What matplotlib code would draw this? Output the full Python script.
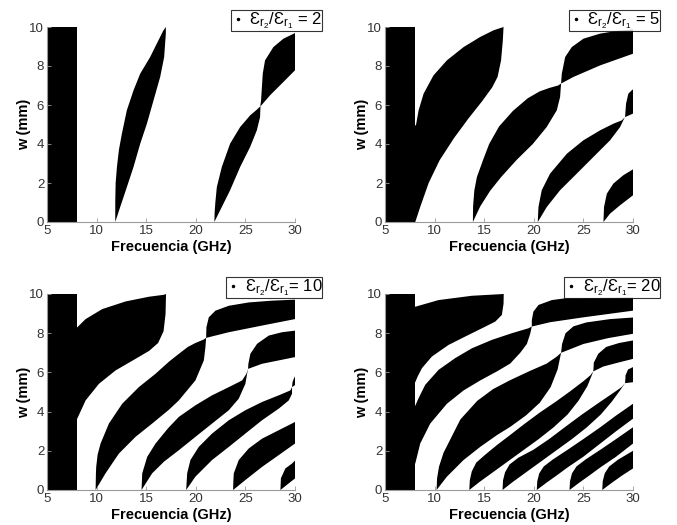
import numpy as np
import matplotlib
matplotlib.use("Agg")
import matplotlib.pyplot as plt
from matplotlib.lines import Line2D

plt.rcParams["font.family"] = ["Liberation Sans", "DejaVu Sans"]
plt.rcParams["mathtext.default"] = "regular"

# ------------ data ------------------------------------
# each band: (upper/left edge, lower/right edge), points as (f [GHz], w [mm])

ratios = [2, 5, 10, 20]
legend_sep = [" = ", " = ", "= ", "= "]
cutoff_f = (5.0, 8.0)          # black block on the left, all w
w_max = 10.0

bands_r2 = [
    ([(11.88, 0), (11.88, 1.0), (11.92, 2.0), (12.05, 2.82), (12.25, 3.7), (12.55, 4.53),
      (13.05, 5.73), (13.72, 6.75), (14.4, 7.61), (15.4, 8.46), (16.07, 9.15), (16.74, 9.83),
      (16.98, 10.0)],
     [(11.88, 0), (12.38, 0.77), (13.05, 1.79), (13.72, 2.82), (14.4, 4.02), (15.07, 5.04),
      (15.74, 6.24), (16.41, 7.44), (16.81, 8.46), (16.98, 9.66), (16.98, 10.0)]),
    ([(21.87, 0), (21.9, 0.5), (21.97, 1.0), (22.12, 1.79), (22.62, 2.82), (23.46, 4.02),
      (24.47, 4.87), (25.48, 5.47), (26.15, 5.76), (26.5, 5.93), (26.58, 6.24), (26.75, 7.61),
      (26.98, 8.29), (27.82, 8.97), (28.83, 9.4), (30.0, 9.69)],
     [(21.87, 0), (22.62, 0.77), (23.46, 1.63), (24.47, 2.82), (25.48, 3.85), (26.15, 4.7),
      (26.48, 5.38), (26.52, 5.93), (27.49, 6.5), (28.83, 7.18), (30.0, 7.78)]),
]

bands_r5 = [
    ([(7.95, 4.96), (8.12, 4.96), (8.39, 5.73), (8.89, 6.58), (9.89, 7.52), (11.24, 8.29),
      (12.92, 8.97), (14.6, 9.49), (15.94, 9.83), (16.95, 10.0)],
     [(7.95, 0), (8.05, 0), (8.55, 0.77), (9.4, 2.0), (10.5, 3.16), (11.95, 4.3), (13.4, 5.3),
      (14.8, 6.2), (15.8, 6.9), (16.35, 7.44), (16.7, 8.29), (16.88, 9.32), (16.95, 10.0)]),
    ([(13.86, 0), (13.88, 0.8), (14.0, 1.6), (14.26, 2.3), (14.9, 3.2), (15.5, 4.0), (16.5, 4.9),
      (17.9, 5.7), (19.4, 6.35), (20.6, 6.7), (21.6, 6.88), (22.45, 7.0), (22.75, 7.1),
      (22.82, 7.6), (23.16, 8.46), (23.83, 8.97), (25.0, 9.4), (26.68, 9.66), (28.36, 9.8),
      (30.0, 9.87)],
     [(13.86, 0), (14.6, 0.8), (15.6, 1.6), (16.7, 2.3), (18.3, 3.2), (19.9, 4.0), (21.3, 4.87),
      (22.32, 5.73), (22.65, 6.41), (22.75, 7.1), (24.0, 7.44), (26.68, 8.03), (30.0, 8.63)]),
    ([(20.4, 0), (20.47, 0.77), (20.8, 1.63), (21.64, 2.48), (23.33, 3.5), (25.0, 4.19),
      (26.68, 4.7), (28.02, 5.04), (28.86, 5.21), (29.2, 5.38), (29.3, 6.07), (29.53, 6.58),
      (29.87, 6.75), (30.0, 6.8)],
     [(20.4, 0), (21.31, 0.77), (22.65, 1.63), (24.33, 2.48), (26.0, 3.33), (27.69, 4.19),
      (28.7, 4.87), (29.1, 5.3), (29.2, 5.38), (30.0, 5.56)]),
    ([(27.02, 0), (27.08, 0.77), (27.36, 1.45), (28.02, 1.97), (29.03, 2.4), (30.0, 2.7)],
     [(27.02, 0), (27.69, 0.43), (28.7, 0.86), (30.0, 1.37)]),
]

bands_r10 = [
    ([(7.95, 8.3), (8.05, 8.3), (8.89, 8.72), (10.57, 9.23), (12.92, 9.62), (15.27, 9.86),
      (16.78, 9.96), (17.0, 10.0)],
     [(7.95, 3.64), (8.05, 3.64), (8.89, 4.57), (10.24, 5.42), (11.91, 6.1), (13.92, 6.69),
      (15.3, 7.1), (16.2, 7.5), (16.75, 8.1), (16.95, 8.98), (17.0, 10.0)]),
    ([(9.9, 0), (9.93, 0.8), (9.96, 1.18), (10.1, 1.8), (10.4, 2.37), (11.24, 3.39), (12.58, 4.4),
      (14.26, 5.25), (15.94, 5.93), (17.3, 6.55), (18.3, 6.95), (19.2, 7.3), (19.96, 7.5),
      (20.81, 7.68), (21.04, 7.76), (21.07, 8.3), (21.31, 8.81), (21.98, 9.15), (23.33, 9.4),
      (25.34, 9.57), (27.69, 9.66), (30.0, 9.71)],
     [(9.9, 0), (10.9, 0.85), (12.25, 1.86), (13.92, 2.71), (15.6, 3.39), (17.3, 4.1),
      (18.29, 4.57), (19.96, 5.59), (20.81, 6.61), (20.97, 7.29), (21.04, 7.76), (23.33, 8.05),
      (26.68, 8.39), (30.0, 8.72)]),
    ([(14.53, 0), (14.6, 0.85), (15.1, 1.69), (15.94, 2.37), (17.2, 3.15), (18.29, 3.73),
      (19.96, 4.32), (21.64, 4.83), (23.33, 5.25), (24.67, 5.59), (25.1, 5.93), (25.27, 6.18),
      (25.3, 6.44), (25.5, 6.95), (26.18, 7.46), (27.36, 7.88), (28.7, 8.05), (30.0, 8.13)],
     [(14.53, 0), (15.6, 0.85), (16.8, 1.45), (18.29, 2.03), (19.96, 2.71), (21.64, 3.39),
      (23.33, 4.07), (24.33, 4.66), (25.0, 5.42), (25.17, 5.93), (25.27, 6.18), (26.68, 6.44),
      (30.0, 6.78)]),
    ([(19.03, 0), (19.13, 0.85), (19.46, 1.53), (20.3, 2.2), (21.64, 2.88), (23.33, 3.56),
      (25.0, 4.07), (26.68, 4.49), (28.36, 4.83), (29.53, 5.08), (29.7, 5.25), (29.75, 5.5),
      (29.87, 5.67), (30.0, 5.8)],
     [(19.03, 0), (19.96, 0.68), (21.64, 1.53), (23.33, 2.2), (25.0, 2.88), (26.68, 3.56),
      (28.36, 4.15), (29.37, 4.57), (29.7, 4.91), (29.7, 5.25), (30.0, 5.35)]),
    ([(23.76, 0), (23.79, 0.5), (23.83, 0.85), (24.33, 1.53), (25.34, 2.12), (26.68, 2.62),
      (28.36, 3.05), (30.0, 3.47)],
     [(23.76, 0), (25.0, 0.51), (26.68, 1.18), (28.36, 1.78), (30.0, 2.37)]),
    ([(28.53, 0), (28.58, 0.6), (29.03, 1.1), (29.7, 1.35), (30.0, 1.5)],
     [(28.53, 0), (29.37, 0.34), (30.0, 0.59)]),
]

bands_r20 = [
    ([(7.95, 9.35), (8.05, 9.35), (10.4, 9.69), (13.76, 9.91), (16.97, 10.0)],
     [(7.95, 5.5), (8.05, 5.5), (8.3, 5.8), (8.73, 6.22), (9.73, 6.81), (11.4, 7.4), (13.09, 7.83),
      (14.77, 8.25), (16.11, 8.59), (16.78, 8.93), (16.95, 9.5), (16.97, 10.0)]),
    ([(7.95, 4.3), (8.05, 4.3), (8.39, 4.69), (9.06, 5.37), (10.4, 6.13), (12.08, 6.73),
      (13.76, 7.23), (15.78, 7.66), (17.79, 8.0), (19.46, 8.25), (19.8, 8.34), (19.8, 8.67),
      (19.96, 9.1), (20.47, 9.44), (21.82, 9.69), (23.16, 9.78), (30.0, 9.82)],
     [(7.95, 1.35), (8.05, 1.35), (8.55, 2.37), (9.56, 3.39), (11.24, 4.4), (12.92, 5.08),
      (14.6, 5.59), (16.28, 6.05), (17.62, 6.45), (18.63, 7.0), (19.3, 7.45), (19.63, 7.96),
      (19.8, 8.34), (21.64, 8.56), (25.0, 8.81), (30.0, 9.15)]),
    ([(10.2, 0), (10.25, 0.6), (10.45, 1.2), (10.9, 1.9), (11.8, 2.8), (12.6, 3.6), (14.3, 4.55),
      (15.9, 5.15), (17.6, 5.6), (19.5, 6.05), (21.3, 6.45), (22.3, 6.8), (22.75, 7.0),
      (22.85, 7.45), (23.2, 8.0), (24.0, 8.35), (25.3, 8.55), (27.7, 8.72), (30.0, 8.8)],
     [(10.2, 0), (11.24, 0.68), (12.92, 1.53), (14.6, 2.2), (16.28, 2.8), (17.62, 3.22),
      (19.2, 3.8), (20.6, 4.45), (21.7, 5.25), (22.4, 6.15), (22.75, 7.0), (25.0, 7.45),
      (27.5, 7.75), (30.0, 7.97)]),
    ([(13.5, 0), (13.55, 0.5), (13.75, 0.95), (14.2, 1.4), (15.1, 1.8), (16.3, 2.3), (17.6, 2.8),
      (19.0, 3.35), (20.6, 3.95), (22.2, 4.5), (23.7, 5.05), (25.0, 5.55), (25.7, 5.85),
      (26.0, 6.05), (26.05, 6.5), (26.5, 6.95), (27.3, 7.3), (28.6, 7.5), (30.0, 7.63)],
     [(13.5, 0), (14.5, 0.4), (16.0, 0.95), (17.5, 1.5), (19.0, 2.05), (20.5, 2.6), (22.0, 3.2),
      (23.4, 3.85), (24.5, 4.55), (25.4, 5.3), (25.8, 5.8), (26.0, 6.05), (27.0, 6.3),
      (28.5, 6.5), (30.0, 6.69)]),
    ([(16.85, 0), (16.9, 0.5), (17.1, 0.9), (17.55, 1.3), (18.45, 1.65), (19.95, 2.05),
      (21.55, 2.6), (23.25, 3.25), (24.85, 3.85), (26.55, 4.45), (28.15, 5.0), (28.85, 5.25),
      (29.2, 5.45), (29.25, 5.85), (29.5, 6.15), (30.0, 6.27)],
     [(16.85, 0), (17.85, 0.4), (19.35, 0.95), (20.85, 1.5), (22.35, 2.05), (23.85, 2.6),
      (25.35, 3.2), (26.75, 3.85), (27.85, 4.5), (28.65, 5.05), (29.2, 5.45), (30.0, 5.5)]),
    ([(20.3, 0), (20.35, 0.45), (20.55, 0.85), (21.0, 1.2), (21.9, 1.55), (23.4, 2.05),
      (25.0, 2.6), (26.7, 3.2), (28.3, 3.8), (30.0, 4.4)],
     [(20.3, 0), (21.3, 0.38), (22.3, 0.74), (23.4, 1.15), (25.0, 1.7), (26.7, 2.37),
      (28.3, 3.0), (30.0, 3.64)]),
    ([(23.6, 0), (23.65, 0.45), (23.85, 0.85), (24.3, 1.2), (25.2, 1.55), (26.7, 2.05),
      (28.3, 2.6), (30.0, 3.2)],
     [(23.6, 0), (24.6, 0.38), (25.6, 0.74), (26.7, 1.15), (28.3, 1.7), (30.0, 2.37)]),
    ([(26.9, 0), (26.95, 0.45), (27.15, 0.85), (27.6, 1.2), (28.5, 1.55), (30.0, 2.0)],
     [(26.9, 0), (27.9, 0.38), (28.9, 0.74), (30.0, 1.1)]),
]

all_bands = [bands_r2, bands_r5, bands_r10, bands_r20]

# ------------ plotting ----------------

fig = plt.figure(figsize=(6.77, 5.25), dpi=100)
W, H = 677, 525
# axes boxes in pixels: left, top, right, bottom
boxes = [(47, 27, 295, 222), (385, 27, 633, 222),
         (47, 294, 295, 490), (385, 294, 633, 490)]

for box, ratio, sep, bands in zip(boxes, ratios, legend_sep, all_bands):
    x0, y0, x1, y1 = box
    ax = fig.add_axes([x0 / W, 1 - y1 / H, (x1 - x0) / W, (y1 - y0) / H])

    ax.fill_betweenx([0, w_max], cutoff_f[0], cutoff_f[1], color="black", lw=0)
    for up, lo in bands:
        pts = np.array(up + lo[::-1])
        ax.fill(pts[:, 0], pts[:, 1], color="black", lw=0)

    ax.set_xlim(5, 30)
    ax.set_ylim(0, 10)
    ax.set_xticks([5, 10, 15, 20, 25, 30])
    ax.set_yticks([0, 2, 4, 6, 8, 10])
    ax.spines[["right", "top"]].set_visible(False)
    for s in ["left", "bottom"]:
        ax.spines[s].set_color("#9a9a9a")
        ax.spines[s].set_linewidth(0.8)
    ax.tick_params(direction="in", length=3, width=0.6, color="#9a9a9a",
                   labelsize=9.5, labelcolor="#333333", pad=2)
    ax.set_xlabel("Frecuencia (GHz)", fontsize=10.5, fontweight="bold", labelpad=2)
    ax.set_ylabel("w (mm)", fontsize=10.5, fontweight="bold", labelpad=-1)

    h = Line2D([], [], color="black", marker=".", markersize=3, linestyle="none")
    leg = ax.legend([h], [r"$Ɛ_{r_2}/Ɛ_{r_1}$" + f"{sep}{ratio}"],
                    loc="upper right", bbox_to_anchor=(1.11, 1.085), fontsize=12,
                    frameon=True, fancybox=False, handlelength=0.8, handletextpad=0.3,
                    borderpad=0.0, borderaxespad=0)
    leg.get_frame().set_edgecolor("black")
    leg.get_frame().set_linewidth(0.8)

fig.savefig("out.png", dpi=100)
